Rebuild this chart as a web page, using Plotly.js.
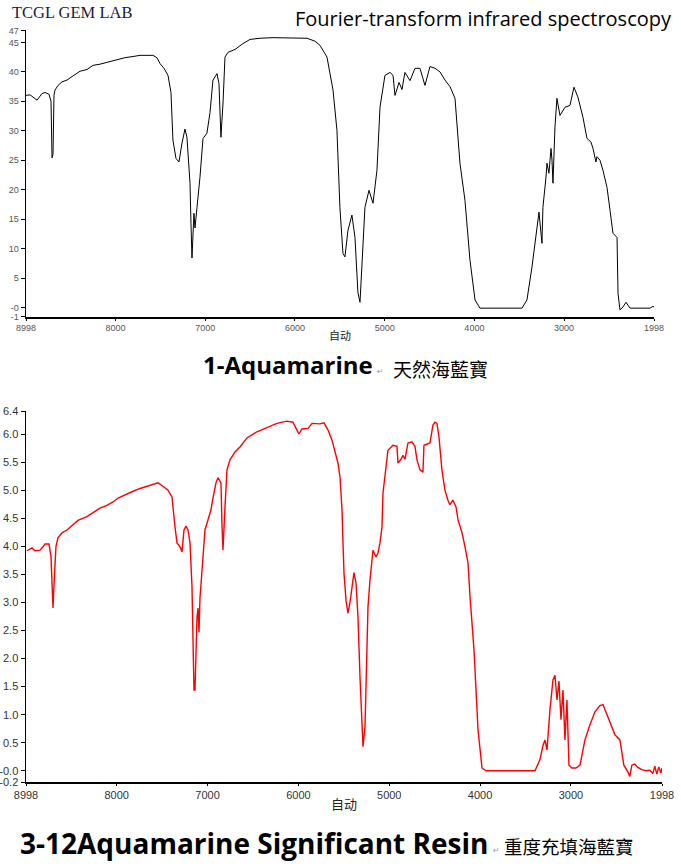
<!DOCTYPE html>
<html>
<head>
<meta charset="utf-8">
<script src="https://cdn.plot.ly/plotly-3.0.1.min.js"></script>
<style>html,body{margin:0;padding:0;background:#fff;}#chart{width:681px;height:866px;}</style>
</head>
<body>
<div id="chart"></div>
<script>
// Top spectrum: 1-Aquamarine (wavenumber, value)
const wnTop = [8998,8953,8875,8820,8786,8742,8719,8708,8697,8686,8675,8641,8597,8541,8485,8396,8318,8251,8173,8095,7984,7895,7805,7727,7649,7583,7538,7504,7460,7415,7382,7360,7326,7293,7259,7226,7204,7170,7159,7148,7126,7114,7092,7059,7025,6981,6947,6914,6869,6847,6825,6802,6780,6747,6668,6579,6501,6390,6245,6022,5866,5777,5721,5643,5576,5532,5499,5465,5443,5409,5365,5331,5298,5275,5242,5220,5175,5130,5086,5052,4997,4941,4907,4885,4840,4807,4774,4718,4662,4607,4551,4495,4439,4384,4328,4272,4216,4161,4105,4049,3993,3938,3470,3414,3358,3302,3280,3247,3236,3202,3191,3169,3146,3135,3124,3102,3080,3046,2990,2935,2890,2846,2790,2745,2701,2678,2645,2634,2600,2567,2522,2488,2455,2410,2399,2377,2344,2310,2288,2265,2043,2010,1998];
const valTop = [36.0,36.1,35.2,36.3,36.5,36.2,35.0,25.4,26.0,36.0,36.9,37.7,38.3,38.6,39.2,40.1,40.4,41.1,41.3,41.6,42.1,42.4,42.6,42.8,42.8,42.8,42.4,41.4,40.6,39.4,36.5,28.4,25.3,24.7,27.9,30.3,28.9,21.1,14.3,8.4,16.0,13.5,17.0,22.1,28.7,29.6,33.1,38.6,39.7,38.0,28.9,34.7,42.5,43.3,43.8,44.8,45.5,45.7,45.8,45.8,45.7,45.2,44.5,42.5,36.9,30.1,17.0,9.2,8.6,13.1,15.7,11.9,2.5,0.9,11.9,17.0,19.9,17.7,23.3,34.0,39.4,39.9,39.4,36.0,38.2,37.0,39.9,38.5,40.6,40.6,37.7,40.9,40.6,40.0,38.6,37.5,35.5,24.5,18.2,8.0,1.3,-0.1,-0.1,1.3,6.9,13.1,16.2,10.9,17.0,22.1,24.5,22.8,27.0,25.0,21.1,30.6,35.5,32.6,34.0,34.3,37.4,35.7,32.3,28.7,28.1,27.0,24.7,25.6,25.0,23.3,20.4,16.5,12.6,11.9,2.4,-0.4,0.1,0.9,0.3,-0.1,-0.1,0.2,0.1];

// Bottom spectrum: 3-12 Aquamarine Significant Resin
const wnBot = [8987,8932,8899,8844,8811,8789,8745,8723,8712,8701,8690,8679,8668,8646,8602,8547,8481,8426,8327,8261,8184,8107,8040,7985,7908,7820,7743,7633,7545,7490,7435,7391,7380,7358,7336,7303,7281,7259,7237,7215,7193,7182,7171,7160,7149,7138,7127,7116,7105,7094,7083,7061,7050,7028,6995,6962,6940,6907,6885,6852,6841,6830,6808,6786,6753,6698,6643,6566,6456,6346,6236,6126,6060,6016,5994,5961,5928,5894,5850,5762,5718,5674,5630,5597,5564,5542,5520,5509,5498,5476,5455,5433,5399,5388,5366,5344,5322,5300,5289,5267,5256,5245,5234,5212,5190,5179,5146,5124,5102,5080,5069,5036,5014,4959,4915,4904,4871,4849,4827,4794,4750,4717,4695,4662,4629,4618,4585,4552,4519,4497,4475,4453,4420,4387,4354,4332,4299,4265,4243,4199,4166,4133,4111,4067,4023,3979,3935,3396,3341,3308,3286,3264,3231,3198,3176,3154,3132,3110,3088,3066,3044,3022,2989,2945,2901,2846,2791,2736,2681,2648,2626,2571,2516,2461,2418,2374,2352,2330,2297,2264,2220,2176,2132,2099,2077,2055,2033,2011,1998];
const valBot = [3.92,3.97,3.92,3.93,3.99,4.04,4.04,3.82,3.35,2.90,3.30,3.76,4.00,4.15,4.24,4.29,4.38,4.46,4.53,4.60,4.68,4.73,4.79,4.86,4.92,4.98,5.03,5.09,5.13,5.07,5.00,4.88,4.65,4.34,4.06,3.99,3.90,4.29,4.36,4.29,4.06,3.76,3.28,2.33,1.44,1.44,2.10,2.74,2.90,2.47,3.08,3.49,3.81,4.29,4.47,4.65,4.86,5.13,5.22,5.13,4.38,3.93,4.70,5.36,5.54,5.68,5.77,5.93,6.04,6.12,6.19,6.23,6.21,6.07,6.00,6.09,6.09,6.10,6.19,6.18,6.20,6.07,5.89,5.66,5.48,5.23,4.65,4.06,3.52,3.04,2.81,2.99,3.46,3.53,3.35,2.74,1.67,0.91,0.43,0.78,1.62,2.39,2.92,3.40,3.70,3.93,3.81,3.88,4.06,4.34,4.95,5.41,5.71,5.80,5.78,5.48,5.55,5.62,5.55,5.84,5.86,5.78,5.54,5.36,5.32,5.80,5.82,5.84,6.16,6.21,6.19,5.95,5.36,5.00,4.82,4.74,4.82,4.70,4.47,4.24,3.99,3.70,3.10,2.15,0.73,0.05,0.00,0.00,0.20,0.45,0.55,0.37,1.09,1.62,1.70,1.26,1.60,0.91,1.44,0.55,1.26,0.10,0.05,0.05,0.10,0.55,0.82,1.05,1.16,1.18,1.09,0.87,0.64,0.55,0.10,-0.02,-0.10,0.10,0.12,0.06,0.02,0.00,0.01,-0.05,0.08,-0.06,0.07,-0.04,0.05];

// Tick labels
const xTickVals = [8998,8000,7000,6000,5000,4000,3000,1998];
const xTickText = ["8998","8000","7000","6000","5000","4000","3000","1998"];
const yTopVals = [-1.55,0,5,10,15,20,25,30,35,40,45,47];
const yTopText = ["-1","-0","5","10","15","20","25","30","35","40","45","47"];
const yBotVals = [-0.2,0,0.5,1.0,1.5,2.0,2.5,3.0,3.5,4.0,4.5,5.0,5.5,6.0,6.4];
const yBotText = ["-0.2","-0.0","0.5","1.0","1.5","2.0","2.5","3.0","3.5","4.0","4.5","5.0","5.5","6.0","6.4"];
const axisTitle = "自动";

const W = 681, H = 866;
const px = x => x / W;
const py = y => 1 - y / H;

const tickFontTop = {family: "Liberation Sans, Arial, sans-serif", size: 9, color: "#555"};
const tickFontBot = {family: "Liberation Sans, Arial, sans-serif", size: 11, color: "#333"};

const traces = [
  {x: wnTop, y: valTop, xaxis: "x", yaxis: "y", mode: "lines", line: {color: "#000", width: 1}, hoverinfo: "skip"},
  {x: wnBot, y: valBot, xaxis: "x2", yaxis: "y2", mode: "lines", line: {color: "#ff0000", width: 1.4}, hoverinfo: "skip"}
];

const baseAxis = {showgrid: false, zeroline: false, showline: true, linecolor: "#000", linewidth: 1.5, ticks: "outside", ticklen: 4, tickcolor: "#000", tickwidth: 1, fixedrange: true, tickmode: "array"};

const layout = {
  width: W, height: H,
  margin: {l: 0, r: 0, t: 0, b: 0},
  paper_bgcolor: "#fff", plot_bgcolor: "#fff",
  showlegend: false,
  xaxis: Object.assign({}, baseAxis, {domain: [px(26), px(654)], range: [8998, 1998], anchor: "y", tickvals: xTickVals, ticktext: xTickText, tickfont: tickFontTop, ticklen: 2,
    title: {text: axisTitle, font: {family: "Noto Sans CJK SC", size: 11, color: "#222"}, standoff: 0}}),
  yaxis: Object.assign({}, baseAxis, {domain: [py(317), py(30)], range: [-1.6, 47.1], anchor: "x", tickvals: yTopVals, ticktext: yTopText, tickfont: tickFontTop}),
  xaxis2: Object.assign({}, baseAxis, {domain: [px(26), px(662)], range: [8998, 1998], anchor: "y2", tickvals: xTickVals, ticktext: xTickText, tickfont: tickFontBot, ticklen: 2,
    title: {text: axisTitle, font: {family: "Noto Sans CJK SC", size: 13, color: "#222"}, standoff: 0}}),
  yaxis2: Object.assign({}, baseAxis, {domain: [py(782), py(411)], range: [-0.2, 6.41], anchor: "x2", tickvals: yBotVals, ticktext: yBotText, tickfont: tickFontBot}),
  annotations: [
    {text: "TCGL GEM LAB", x: px(10), y: py(12), xref: "paper", yref: "paper", xanchor: "left", yanchor: "middle", showarrow: false,
     font: {family: "Liberation Serif, DejaVu Serif, serif", size: 16.5, color: "#1b1b3a"}},
    {text: "Fourier-transform infrared spectroscopy", x: px(674), y: py(18), xref: "paper", yref: "paper", xanchor: "right", yanchor: "middle", showarrow: false,
     font: {family: "Open Sans, Noto Sans, sans-serif", size: 20, color: "#000"}},
    {text: "<b>1-Aquamarine</b>", x: px(201), y: py(364), xref: "paper", yref: "paper", xanchor: "left", yanchor: "middle", showarrow: false,
     font: {family: "Open Sans, Noto Sans, sans-serif", size: 24, color: "#000"}},
    {text: "↵", x: px(375), y: py(371), xref: "paper", yref: "paper", xanchor: "left", yanchor: "middle", showarrow: false,
     font: {family: "DejaVu Sans", size: 8, color: "#999"}},
    {text: "天然海藍寶", x: px(391), y: py(368), xref: "paper", yref: "paper", xanchor: "left", yanchor: "middle", showarrow: false,
     font: {family: "Noto Sans CJK TC", size: 19, color: "#000"}},
    {text: "<b>3-12Aquamarine Significant Resin</b>", x: px(18), y: py(843), xref: "paper", yref: "paper", xanchor: "left", yanchor: "middle", showarrow: false,
     font: {family: "Open Sans, Noto Sans, sans-serif", size: 28, color: "#000"}},
    {text: "↵", x: px(491), y: py(850), xref: "paper", yref: "paper", xanchor: "left", yanchor: "middle", showarrow: false,
     font: {family: "DejaVu Sans", size: 8, color: "#999"}},
    {text: "重度充填海藍寶", x: px(502), y: py(846), xref: "paper", yref: "paper", xanchor: "left", yanchor: "middle", showarrow: false,
     font: {family: "Noto Sans CJK TC", size: 18.5, color: "#000"}}
  ]
};

Plotly.newPlot("chart", traces, layout, {staticPlot: true, displayModeBar: false});
</script>
</body>
</html>
